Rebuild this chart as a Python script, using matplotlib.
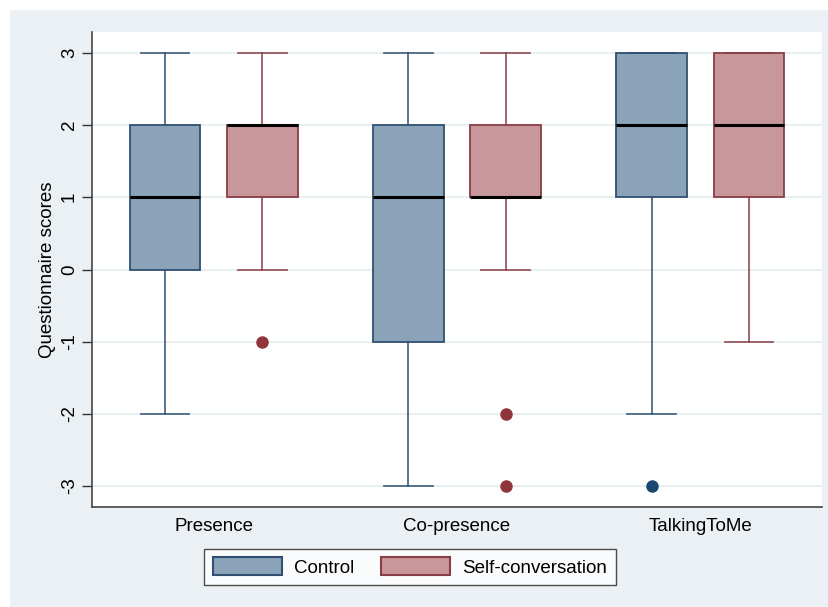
import matplotlib
matplotlib.use("Agg")
import matplotlib.pyplot as plt
from matplotlib.patches import Patch, Rectangle

plt.rcParams['font.family'] = ['Liberation Sans', 'DejaVu Sans']

categories = ["Presence", "Co-presence", "TalkingToMe"]
groups = ["Control", "Self-conversation"]

# five-number summaries per category: (whisker low, Q1, median, Q3, whisker high)
control_stats = [(-2, 0, 1, 2, 3), (-3, -1, 1, 2, 3), (-2, 1, 2, 3, 3)]
self_stats = [(0, 1, 2, 2, 3), (0, 1, 1, 2, 3), (-1, 1, 2, 3, 3)]
control_outliers = [[], [], [-3]]
self_outliers = [[-1], [-2, -3], []]

yticks = [-3, -2, -1, 0, 1, 2, 3]

navy = (26/255, 71/255, 111/255)
maroon = (144/255, 53/255, 59/255)
navy_edge = "#2f5070"
maroon_edge = "#8a3d45"
navy_fill = "#8ba3b8"
maroon_fill = "#c8979c"
bg = "#eaf0f3"

fig = plt.figure(figsize=(8.29, 6.07), dpi=100)
fig.patch.set_facecolor("white")
fig.patches.append(Rectangle((10/829, 0), 1, 1 - 10/607, transform=fig.transFigure,
                             facecolor=bg, edgecolor="none", zorder=-10))

ax = fig.add_axes([92/829, 1 - 507/607, (822-92)/829, (507-32)/607])
ax.set_facecolor("white")


def make_stats(summ, outs):
    lo, q1, med, q3, hi = summ
    return dict(whislo=lo, q1=q1, med=med, q3=q3, whishi=hi, fliers=outs)


offset = 0.2
width = 0.29
for stats_list, outs_list, fill, edge, dot, dx in [
    (control_stats, control_outliers, navy_fill, navy_edge, navy, -offset),
    (self_stats, self_outliers, maroon_fill, maroon_edge, maroon, offset),
]:
    stats = [make_stats(s, o) for s, o in zip(stats_list, outs_list)]
    positions = [i + dx for i in range(len(categories))]
    ax.bxp(stats, positions=positions, widths=width, patch_artist=True,
           boxprops=dict(facecolor=fill, edgecolor=edge, linewidth=1.3),
           medianprops=dict(color="black", linewidth=2.2),
           whiskerprops=dict(color=edge, linewidth=1.3, alpha=0.85),
           capprops=dict(color=edge, linewidth=1.3, alpha=0.85),
           capwidths=0.2,
           flierprops=dict(marker="o", markerfacecolor=dot, markeredgecolor=dot,
                           markersize=8, linestyle="none"),
           manage_ticks=False, zorder=3)

ax.set_xlim(-0.5, 2.5)
ax.set_ylim(-3.29, 3.29)
ax.set_yticks(yticks)
ax.set_yticklabels([str(v) for v in yticks], rotation=90, va="center", fontsize=13.5)
ax.set_xticks(range(len(categories)))
ax.set_xticklabels(categories, fontsize=13.5)
ax.tick_params(axis="x", length=0, pad=8)
ax.tick_params(axis="y", length=7, width=1, color="#333333", pad=3)
ax.grid(axis="y", color="#e4ecef", linewidth=1.2, zorder=0)
ax.set_axisbelow(True)
for side in ["top", "right"]:
    ax.spines[side].set_visible(False)
for side in ["left", "bottom"]:
    ax.spines[side].set_color("#444444")
    ax.spines[side].set_linewidth(1.2)
ax.set_ylabel("Questionnaire scores", fontsize=13.5, labelpad=4)

handles = [Patch(facecolor=navy_fill, edgecolor=navy_edge, linewidth=1.5),
           Patch(facecolor=maroon_fill, edgecolor=maroon_edge, linewidth=1.5)]
leg = fig.legend(handles, groups, loc="center", bbox_to_anchor=(410/829, 1 - 567/607),
                 ncol=2, fontsize=13.5, frameon=True, fancybox=False,
                 handlelength=3.7, handleheight=1.1, columnspacing=1.4,
                 handletextpad=0.65, borderpad=0.45, borderaxespad=0)
leg.get_frame().set_edgecolor("#222222")
leg.get_frame().set_linewidth(1.0)

fig.savefig("out.png", dpi=100, facecolor=fig.get_facecolor())
